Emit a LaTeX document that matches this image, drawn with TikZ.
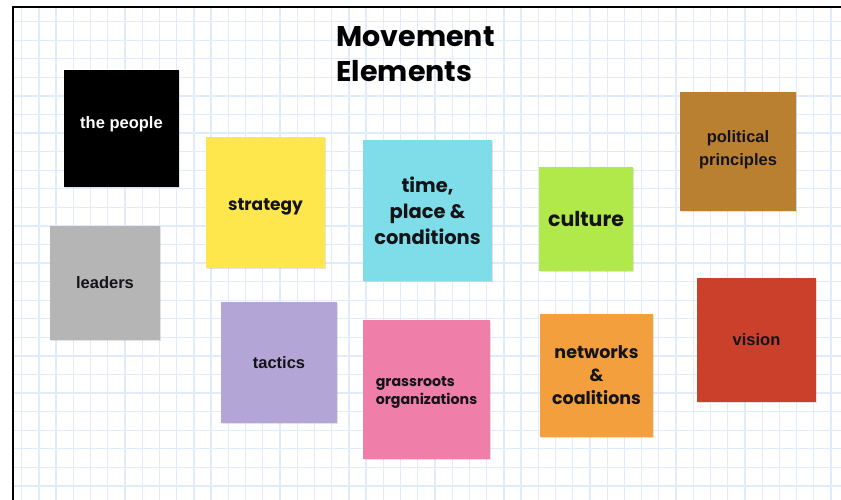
\documentclass[tikz,border=0pt]{standalone}
\usepackage{fontspec}
\setmainfont{Liberation Sans}
\newfontfamily\geofont{Poppins}
\usepackage{tikz}
\usetikzlibrary{shadows}
\definecolor{gridblue}{RGB}{224,235,252}
\definecolor{noteyellow}{RGB}{253,231,76}
\definecolor{notecyan}{RGB}{127,221,233}
\definecolor{notelilac}{RGB}{179,165,213}
\definecolor{notepink}{RGB}{239,126,168}
\definecolor{notegreen}{RGB}{177,232,74}
\definecolor{noteorange}{RGB}{244,159,62}
\definecolor{notebrown}{RGB}{185,128,50}
\definecolor{notered}{RGB}{203,64,43}
\definecolor{notegray}{RGB}{181,181,181}
\definecolor{ink}{RGB}{20,20,24}
\newcommand\lift[2]{\raisebox{#1}[\height][\depth]{#2}}

\begin{document}
\begin{tikzpicture}[x=1pt,y=-1pt,
    note/.style={rectangle,inner sep=0pt,align=center,text=ink,
      drop shadow={shadow xshift=0.6pt,shadow yshift=-1.2pt,opacity=0.22}},
    helv/.style 2 args={font=\fontsize{#1}{#2}\selectfont\bfseries},
    geo/.style 2 args={font=\fontsize{#1}{#2}\selectfont\geofont\bfseries}]
        \useasboundingbox (0,0) rectangle (841,500);
        \fill[white] (0,0) rectangle (841,500);
        % squared paper
        \begin{scope}
        \clip (13,7) rectangle (841,500);
        \foreach \i in {0,...,48}
          \draw[gridblue,line width=1.3pt] (21.7+17.22*\i,7) -- (21.7+17.22*\i,500);
        \foreach \j in {0,...,26}
          \draw[gridblue,line width=1.3pt] (13,21.7+18.57*\j) -- (841,21.7+18.57*\j);
        \end{scope}
        \draw[line width=1.6pt] (13,500) -- (13,7) -- (841,7);

        \node[anchor=north west,align=left,text=black,geo={28.5}{35}] (title) at (333,23)
          {Movement\\Elements};

        \node[note,fill=black,text=white,helv={16.5}{23},minimum width=115,minimum height=117]
          (people) at (121.5,128.5) {\lift{4.5pt}{the people}};
        \node[note,fill=notegray,helv={16.5}{23},minimum width=110,minimum height=114]
          (leaders) at (105,283) {leaders};
        \node[note,fill=noteyellow,geo={17}{23},minimum width=119,minimum height=131]
          (strategy) at (265.5,202.5) {\lift{-4pt}{strategy}};
        \node[note,fill=notelilac,helv={16.5}{23},minimum width=116,minimum height=121]
          (tactics) at (279,362.5) {tactics};
        \node[note,fill=notecyan,geo={19.5}{26},minimum width=129,minimum height=141]
          (time) at (427.5,210.5) {time,\\place \&\\conditions};
        \node[note,fill=notepink,align=left,geo={14.2}{18.5},minimum width=127,minimum height=139]
          (grassroots) at (426.5,389.5) {\lift{-3pt}{grassroots}\\\lift{-3pt}{organizations}};
        \node[note,fill=notegreen,geo={20.5}{26},minimum width=94,minimum height=104]
          (culture) at (586,219) {culture};
        \node[note,fill=noteorange,geo={17.5}{23},minimum width=113,minimum height=123]
          (networks) at (596.5,375.5) {networks\\\&\\coalitions};
        \node[note,fill=notebrown,helv={16.5}{23},minimum width=116,minimum height=119]
          (principles) at (738,151.5) {\lift{2pt}{political}\\\lift{2pt}{principles}};
        \node[note,fill=notered,helv={16.5}{23},minimum width=119,minimum height=124]
          (vision) at (756.5,340) {vision};
\end{tikzpicture}
\end{document}
